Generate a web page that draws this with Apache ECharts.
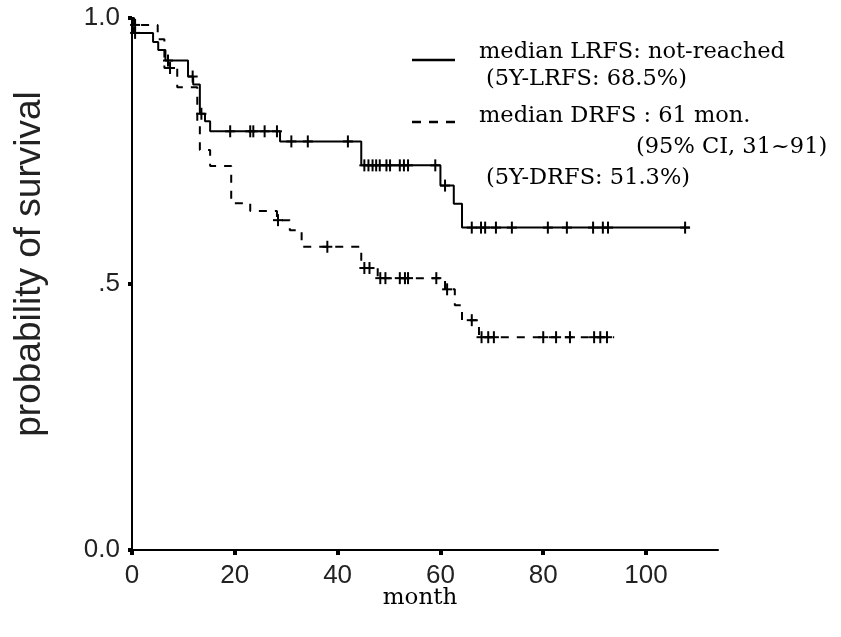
<!DOCTYPE html>
<html>
<head>
<meta charset="utf-8">
<script src="https://cdn.jsdelivr.net/npm/echarts@6/dist/echarts.min.js"></script>
<style>html,body{margin:0;padding:0;background:#fff;}#c{width:841px;height:637px;}</style>
</head>
<body>
<div id="c"></div>
<script>
// LRFS (solid) step function
const lrfsTime = [0, 0.3, 4.1, 5.1, 6.5, 10.9, 11.9, 13.2, 14.2, 15.2, 28.8, 44.6, 60.0, 62.6, 64.2, 108.5];
const lrfsSurv = [1.0, 0.972, 0.955, 0.94, 0.92, 0.89, 0.875, 0.82, 0.806, 0.787, 0.768, 0.723, 0.685, 0.651, 0.606, 0.606];
const lrfsCensor = [0.6, 7.0, 11.8, 13.5, 19.1, 23.0, 23.6, 25.8, 28.2, 31.0, 34.2, 42.0, 45.2, 46.0, 46.8, 47.5, 48.2, 49.5, 50.2, 52.1, 52.9, 53.7, 59.0, 60.9, 66.1, 67.9, 68.7, 70.8, 73.9, 80.9, 84.6, 89.7, 91.6, 92.6, 107.6];
// DRFS (dashed) step function
const drfsTime = [0, 0.4, 5.0, 6.3, 8.8, 12.7, 13.2, 15.2, 19.3, 23.0, 28.2, 30.7, 33.0, 44.6, 47.8, 60.9, 62.8, 64.2, 67.5, 93.8];
const drfsSurv = [1.0, 0.987, 0.96, 0.906, 0.87, 0.80, 0.752, 0.722, 0.652, 0.637, 0.62, 0.601, 0.57, 0.53, 0.511, 0.49, 0.46, 0.432, 0.40, 0.40];
const drfsCensor = [0.6, 7.4, 28.4, 38.0, 45.2, 46.2, 48.3, 49.3, 52.1, 53.1, 53.7, 59.2, 61.3, 66.1, 68.0, 69.3, 70.4, 80.0, 82.5, 85.2, 89.9, 91.1, 92.4];

const xTicks = [0, 20, 40, 60, 80, 100];
const yTicks = [0, 0.5, 1.0];
const yTickLabels = ['0.0', '.5', '1.0'];
const yTitle = 'probability of survival';
const xTitle = 'month';

const legendLines = [
  'median LRFS: not-reached',
  '(5Y-LRFS: 68.5%)',
  'median DRFS : 61 mon.',
  '(95% CI, 31~91)',
  '(5Y-DRFS: 51.3%)'
];

function stepData(t, s) { return t.map((v, i) => [v, s[i]]); }
function survAt(t, s, x) {
  let v = s[0];
  for (let i = 0; i < t.length; i++) { if (t[i] <= x) v = s[i]; }
  return v;
}
function censorData(c, t, s) { return c.map(x => [x, survAt(t, s, x)]); }

function plusItem(params, api) {
  const p = api.coord([api.value(0), api.value(1)]);
  const st = { stroke: '#000', lineWidth: 2 };
  return {
    type: 'group',
    children: [
      { type: 'line', shape: { x1: p[0], y1: p[1] - 6, x2: p[0], y2: p[1] + 6 }, style: st },
      { type: 'line', shape: { x1: p[0] - 5, y1: p[1], x2: p[0] + 5, y2: p[1] }, style: st }
    ]
  };
}

const chart = echarts.init(document.getElementById('c'));
const sans = 'Liberation Sans';
const legFont = '22.5px "DejaVu Serif"';
chart.setOption({
  animation: false,
  backgroundColor: '#fff',
  grid: { left: 132, right: 123, top: 18, bottom: 87 },
  xAxis: {
    type: 'value', min: 0, max: 114,
    axisLine: { lineStyle: { color: '#000', width: 2 } },
    axisTick: { show: true, length: 5, lineStyle: { color: '#000', width: 4 }, customValues: xTicks },
    axisLabel: { customValues: xTicks, fontFamily: sans, fontSize: 26, color: '#222', margin: 13 },
    splitLine: { show: false }
  },
  yAxis: {
    type: 'value', min: 0, max: 1,
    axisLine: { lineStyle: { color: '#000', width: 2 } },
    axisTick: { show: true, length: 4, lineStyle: { color: '#000', width: 4 }, customValues: yTicks },
    axisLabel: {
      customValues: yTicks, fontFamily: sans, fontSize: 26, color: '#222', margin: 12,
      formatter: v => yTickLabels[yTicks.indexOf(v)]
    },
    splitLine: { show: false }
  },
  series: [
    { type: 'line', step: 'end', data: stepData(lrfsTime, lrfsSurv), showSymbol: false,
      lineStyle: { color: '#000', width: 2 } },
    { type: 'line', step: 'end', data: stepData(drfsTime, drfsSurv), showSymbol: false,
      lineStyle: { color: '#000', width: 2, type: [8, 8] } },
    { type: 'custom', renderItem: plusItem, data: censorData(lrfsCensor, lrfsTime, lrfsSurv), z: 5 },
    { type: 'custom', renderItem: plusItem, data: censorData(drfsCensor, drfsTime, drfsSurv), z: 5 }
  ],
  graphic: [
    { type: 'text', x: 30, y: 264, rotation: Math.PI / 2,
      style: { text: yTitle, font: '37px "Liberation Sans"', fill: '#222', align: 'center', verticalAlign: 'middle' } },
    { type: 'text', x: 420, y: 598,
      style: { text: xTitle, font: '23px "DejaVu Serif"', fill: '#000', align: 'center', verticalAlign: 'middle' } },
    { type: 'line', shape: { x1: 412, y1: 60, x2: 455, y2: 60 }, style: { stroke: '#000', lineWidth: 2.5 } },
    { type: 'line', shape: { x1: 412, y1: 122, x2: 457, y2: 122 }, style: { stroke: '#000', lineWidth: 2.5, lineDash: [9, 8] } },
    { type: 'text', left: 479, top: 41, style: { text: legendLines[0], font: legFont, fill: '#000' } },
    { type: 'text', left: 486, top: 68, style: { text: legendLines[1], font: legFont, fill: '#000' } },
    { type: 'text', left: 479, top: 105, style: { text: legendLines[2], font: legFont, fill: '#000' } },
    { type: 'text', left: 636, top: 136, style: { text: legendLines[3], font: legFont, fill: '#000' } },
    { type: 'text', left: 486, top: 167, style: { text: legendLines[4], font: legFont, fill: '#000' } }
  ]
});
</script>
</body>
</html>
